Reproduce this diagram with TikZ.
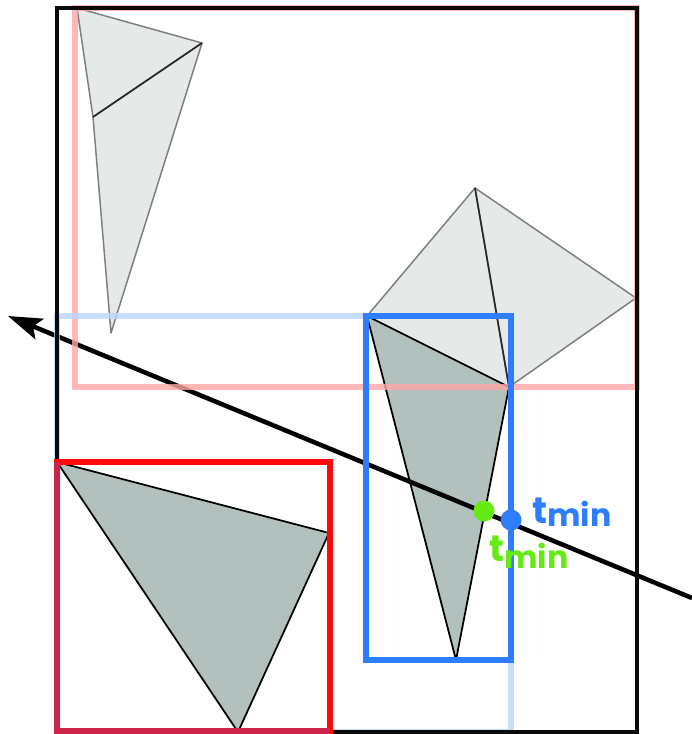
\documentclass[tikz,border=0pt]{standalone}
\usepackage{fontspec}
\setsansfont{Poppins}
\usetikzlibrary{arrows.meta, positioning}
\definecolor{BVHBlack}{RGB}{10,10,10}
\definecolor{BVHPink}{RGB}{255,165,165}
\definecolor{BVHSky}{RGB}{185,212,255}
\definecolor{BVHRed}{RGB}{255,10,10}
\definecolor{BVHCrimson}{RGB}{205,35,75}
\definecolor{BVHBlue}{RGB}{45,125,255}
\definecolor{BVHGreen}{RGB}{100,235,20}
\definecolor{TriLight}{RGB}{229,233,232}
\definecolor{TriDark}{RGB}{179,193,190}
\definecolor{TriEdge}{RGB}{125,128,127}

\begin{document}
\begin{tikzpicture}[x=0.02cm, y=-0.02cm,
    root/.style={draw=BVHBlack, line width=2.1pt},
    far/.style={line width=3pt, opacity=0.8},
    near/.style={line width=2.9pt},
    tri/.style={fill=TriLight, draw=TriEdge, line width=0.85pt, line join=round},
    hitri/.style={fill=TriDark, draw=black, line width=1pt, line join=round},
    inner/.style={draw=black!85, line width=0.9pt},
    ray/.style={line width=2.6pt, -{Stealth[length=0.68cm, width=0.44cm, inset=0.14cm]}},
    hit/.style={circle, inner sep=0pt, minimum size=0.42cm},
    tlabel/.style={font=\sffamily\bfseries\fontsize{21}{21}\selectfont, inner sep=0pt, anchor=base west}
  ]
  \useasboundingbox (0,0) rectangle (692,734);

  % far-away triangles (not hit)
  \coordinate (a1) at (77,8);
  \coordinate (a2) at (202,43);
  \coordinate (a3) at (93,117);
  \coordinate (a4) at (111,333);
  \coordinate (b1) at (367,316);
  \coordinate (b2) at (475,188);
  \coordinate (b3) at (509,387);
  \coordinate (b4) at (636,298);
  \coordinate (b5) at (456,660);
  \coordinate (c1) at (57,462);
  \coordinate (c2) at (329,533);
  \coordinate (c3) at (238,732);

  \draw[tri] (a1) -- (a2) -- (a3) -- cycle;
  \draw[tri] (a3) -- (a2) -- (a4) -- cycle;
  \draw[inner] (a3) -- (a2);
  \draw[tri] (b1) -- (b2) -- (b3) -- cycle;
  \draw[tri] (b2) -- (b4) -- (b3) -- cycle;
  \draw[inner] (b2) -- (b3);

  % triangles inside the tight boxes
  \draw[hitri] (b1) -- (b3) -- (b5) -- cycle;
  \draw[hitri] (c1) -- (c2) -- (c3) -- cycle;

  % ray
  \coordinate (rayorg) at (692,598);
  \coordinate (raytip) at (8,316);
  \draw[ray] (rayorg) -- (raytip);

  % child boxes
  \draw[far, draw=BVHPink] (75,8) rectangle (637,387);
  \draw[far, draw=BVHSky] (57,316) rectangle (511,732);

  % root box
  \draw[root] (57,8) rectangle (637,732);

  \draw[near, draw=BVHRed] (57,462) rectangle (330,731);
  \draw[near, draw=BVHCrimson] (330,731) -- (57,731) -- (57,462);
  \draw[near, draw=BVHBlue] (366,316) rectangle (511,660);

  % entry points
  \node[hit, fill=BVHGreen] (hitg) at (484,511) {};
  \node[hit, fill=BVHBlue] (hitb) at (511,520) {};
  \node[tlabel, text=BVHBlue] (tb) at (532,523)
    {t\raisebox{-2pt}{\fontsize{18}{18}\selectfont min}};
  \node[tlabel, text=BVHGreen] (tg) at (489,561)
    {t\raisebox{-4pt}{\fontsize{18}{18}\selectfont min}};
\end{tikzpicture}
\end{document}
